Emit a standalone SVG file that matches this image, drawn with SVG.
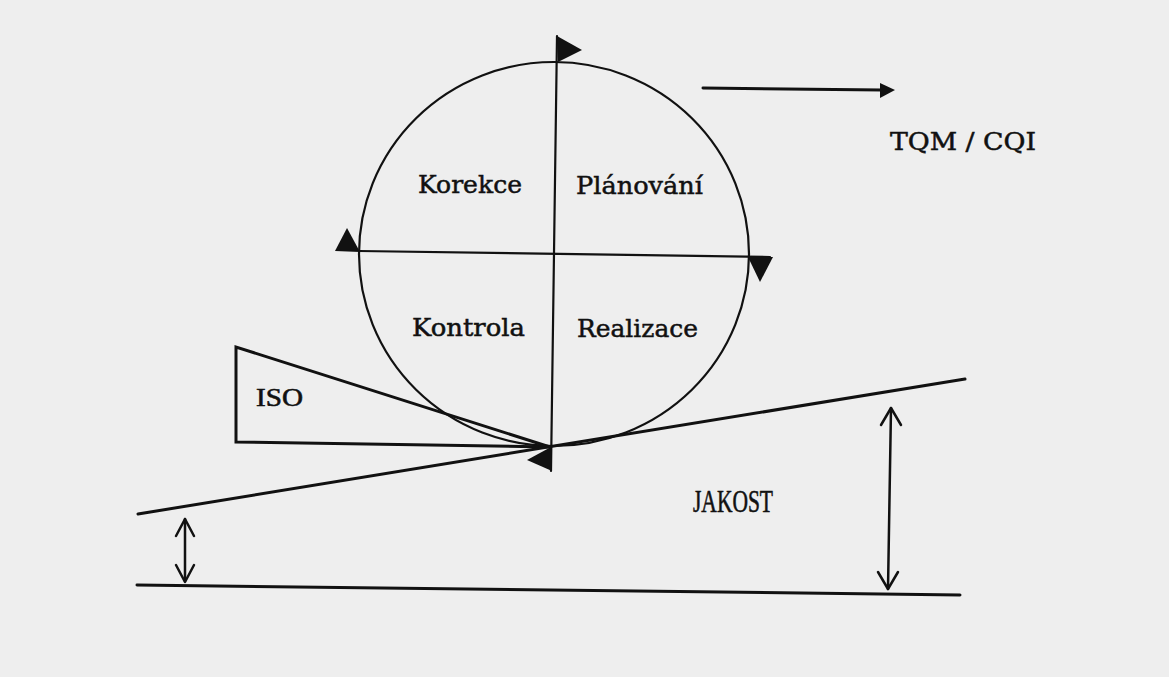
<svg xmlns="http://www.w3.org/2000/svg" width="1169" height="677" viewBox="0 0 1169 677">
  <defs>
    <style>
      .ln { fill: none; stroke: #111; stroke-linecap: round; }
      .thin { stroke-width: 2.2; }
      .thick { stroke-width: 3; }
      .fill { fill: #111; stroke: none; }
      .lbl { font-family: "DejaVu Serif", "Liberation Serif", serif; font-size: 25px; fill: #111; stroke: #111; stroke-width: 0.5; }
      .lbl2 { font-family: "Liberation Serif", "DejaVu Serif", serif; fill: #111; stroke: #111; stroke-width: 0.6; }
      .open { fill: none; stroke: #111; stroke-width: 2.5; stroke-linecap: round; stroke-linejoin: round; }
    </style>
  </defs>
  <rect x="0" y="0" width="1169" height="677" fill="#eeeeee"/>

  <g id="cycle">
    <ellipse class="ln thin" cx="554" cy="254" rx="195" ry="192"/>
    <line class="ln thin" x1="557" y1="36" x2="551" y2="471"/>
    <line class="ln thin" x1="359" y1="251" x2="770" y2="257"/>
  </g>

  <g id="label-korekce"><text class="lbl" x="418" y="193" textLength="104" lengthAdjust="spacingAndGlyphs">Korekce</text></g>
  <g id="label-planovani"><text class="lbl" x="576" y="194" textLength="127" lengthAdjust="spacingAndGlyphs">Plánování</text></g>
  <g id="label-kontrola"><text class="lbl" x="412" y="336" textLength="113" lengthAdjust="spacingAndGlyphs">Kontrola</text></g>
  <g id="label-realizace"><text class="lbl" x="577" y="337" textLength="121" lengthAdjust="spacingAndGlyphs">Realizace</text></g>

  <g id="iso">
    <polyline class="ln thick" points="550,447 236,442 236,347 550,447"/>
    <text class="lbl2" x="256" y="406" font-size="26" textLength="47" lengthAdjust="spacingAndGlyphs">ISO</text>
  </g>

  <g id="tqm">
    <text class="lbl" x="890" y="150" font-size="23" textLength="146" lengthAdjust="spacingAndGlyphs">TQM / CQI</text>
  </g>

  <g id="jakost">
    <text class="lbl2" x="693" y="512" font-size="32" textLength="80" lengthAdjust="spacingAndGlyphs">JAKOST</text>
  </g>

  <g id="baselines">
    <line class="ln thick" x1="138" y1="514" x2="965" y2="379"/>
    <line class="ln thick" x1="137" y1="585" x2="960" y2="595"/>
  </g>

  <g id="connectors">
    <!-- cycle direction arrowheads -->
    <polygon class="fill" points="557,36 582,50 558,62"/>
    <polygon class="fill" points="335,251 347,228 360,252"/>
    <polygon class="fill" points="748,257 773,257 760,282"/>
    <polygon class="fill" points="527,460 551,447 552,471"/>
    <!-- TQM arrow -->
    <line class="ln thick" x1="703" y1="88" x2="882" y2="90"/>
    <polygon class="fill" points="880,83 895,90 880,98"/>
    <!-- left double arrow -->
    <line class="ln" stroke-width="2.5" x1="185" y1="519" x2="185" y2="581"/>
    <polyline class="open" points="176,536 185,519 194,536"/>
    <polyline class="open" points="176,565 185,582 194,565"/>
    <!-- right double arrow -->
    <line class="ln" stroke-width="2.5" x1="891" y1="408" x2="888" y2="589"/>
    <polyline class="open" points="881,425 891,408 901,425"/>
    <polyline class="open" points="878,572 888,589 898,572"/>
  </g>
</svg>
